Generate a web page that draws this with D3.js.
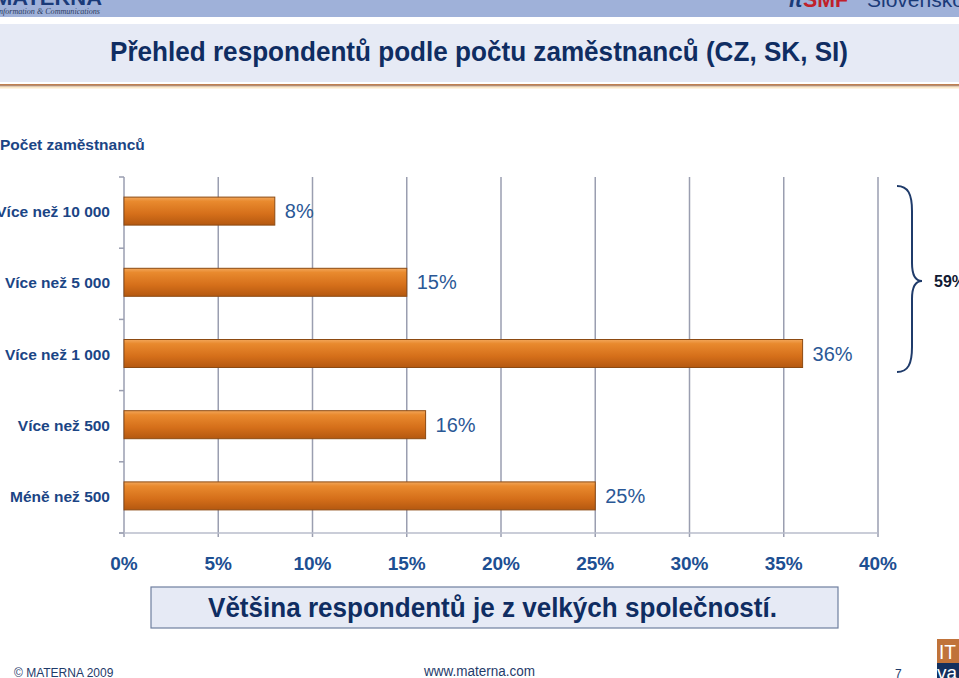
<!DOCTYPE html>
<html><head><meta charset="utf-8">
<script src="https://cdn.jsdelivr.net/npm/d3@7"></script>
<style>body{margin:0;background:#fff;}svg{display:block;}</style>
</head><body>
<svg id="c" width="959" height="678"></svg>
<script>
const categories = ["Více než 10 000","Více než 5 000","Více než 1 000","Více než 500","Méně než 500"];
const values = [8,15,36,16,25];
const ticks = [0,5,10,15,20,25,30,35,40];
const bracketLabel = "59%";
const title = "Přehled respondentů podle počtu zaměstnanců (CZ, SK, SI)";
const yTitle = "Počet zaměstnanců";
const note = "Většina respondentů je z velkých společností.";

(function(){
const svg = d3.select("#c");
const navy = "#1b4585";
const SANS = "Liberation Sans, Arial, sans-serif";
const defs = svg.append("defs");
const g1 = defs.append("linearGradient").attr("id","bar").attr("x1",0).attr("y1",0).attr("x2",0).attr("y2",1);
g1.append("stop").attr("offset","0").attr("stop-color","#f2a65a");
g1.append("stop").attr("offset","0.15").attr("stop-color","#e98a2e");
g1.append("stop").attr("offset","0.6").attr("stop-color","#d56f1a");
g1.append("stop").attr("offset","1").attr("stop-color","#b45810");

// header
svg.append("rect").attr("x",0).attr("y",0).attr("width",959).attr("height",17).attr("fill","#9fb1d9");
svg.append("text").attr("x",-6).attr("y",5).attr("font-family",SANS).attr("font-weight","bold").attr("font-size",20)
  .attr("textLength",108).attr("lengthAdjust","spacingAndGlyphs").attr("fill","#1a3a78").text("MATERNA");
svg.append("text").attr("x",-1).attr("y",13.5).attr("font-family","Liberation Serif, serif").attr("font-style","italic").attr("font-size",9)
  .attr("textLength",101).attr("lengthAdjust","spacingAndGlyphs").attr("fill","#2a3a60").text("nformation & Communications");
svg.append("text").attr("x",789).attr("y",7).attr("font-family",SANS).attr("font-weight","bold").attr("font-style","italic").attr("font-size",22).attr("fill","#1a3a78").text("it");
svg.append("text").attr("x",803).attr("y",7).attr("font-family",SANS).attr("font-weight","bold").attr("font-size",22)
  .attr("textLength",45).attr("lengthAdjust","spacingAndGlyphs").attr("fill","#c0202a").text("SMF");
svg.append("text").attr("x",867).attr("y",7).attr("font-family",SANS).attr("font-size",21).attr("fill","#1a3a78").text("Slovensko");
svg.append("rect").attr("x",0).attr("y",24).attr("width",959).attr("height",58).attr("fill","#e6eaf5");
svg.append("rect").attr("x",0).attr("y",84).attr("width",959).attr("height",1.5).attr("fill","#c08050");
svg.append("rect").attr("x",0).attr("y",85.5).attr("width",959).attr("height",1).attr("fill","#8a5a40");
svg.append("rect").attr("x",0).attr("y",86.5).attr("width",959).attr("height",2).attr("fill","#fbe8c8");

svg.append("text").attr("x",110).attr("y",61)
  .attr("font-family",SANS).attr("font-weight","bold").attr("textLength",738).attr("lengthAdjust","spacingAndGlyphs")
  .attr("font-size",28).attr("fill","#0f2d62").text(title);

svg.append("text").attr("x",0).attr("y",150).attr("font-family",SANS)
  .attr("font-weight","bold").attr("font-size",15.5).attr("fill",navy).text(yTitle);

const x = d3.scaleLinear().domain([0,40]).range([124,878]);
const yb = d3.scaleBand().domain(categories).range([177,533]);

// grid
svg.append("g").selectAll("line").data(ticks.slice(1)).join("line")
  .attr("x1",d=>x(d)).attr("x2",d=>x(d)).attr("y1",177).attr("y2",537)
  .attr("stroke","#9a9eb0").attr("stroke-width",1.5);
// y axis
svg.append("line").attr("x1",124).attr("x2",124).attr("y1",177).attr("y2",537).attr("stroke","#9a9eb0").attr("stroke-width",1.5);
svg.append("line").attr("x1",119).attr("x2",878).attr("y1",533).attr("y2",533).attr("stroke","#b8bccb").attr("stroke-width",1.5);
const bounds = categories.map(c=>yb(c)).concat([533]);
svg.append("g").selectAll("line").data(bounds).join("line")
  .attr("x1",119).attr("x2",124).attr("y1",d=>d).attr("y2",d=>d).attr("stroke","#9a9eb0").attr("stroke-width",1.5);

// bars
const data = categories.map((c,i)=>({c,v:values[i]}));
svg.append("g").selectAll("rect").data(data).join("rect")
  .attr("x",x(0)).attr("y",d=>yb(d.c)+yb.bandwidth()/2-15.5).attr("height",28)
  .attr("width",d=>x(d.v)-x(0)).attr("fill","url(#bar)").attr("stroke","#8c4a12").attr("stroke-width",1);

// value labels
svg.append("g").selectAll("text").data(data).join("text")
  .attr("x",d=>x(d.v)+10).attr("y",d=>yb(d.c)+yb.bandwidth()/2+5.5)
  .attr("font-family",SANS).attr("font-size",20).attr("fill","#2a5896")
  .text(d=>d.v+"%");

// category labels
svg.append("g").selectAll("text").data(categories).join("text")
  .attr("x",110).attr("y",d=>yb(d)+yb.bandwidth()/2+4.5).attr("text-anchor","end")
  .attr("font-family",SANS).attr("font-weight","bold").attr("font-size",15.5).attr("fill",navy)
  .text(d=>d);

// tick labels
svg.append("g").selectAll("text").data(ticks).join("text")
  .attr("x",d=>x(d)).attr("y",570).attr("text-anchor","middle")
  .attr("font-family",SANS).attr("font-weight","bold").attr("font-size",19).attr("fill","#1d4f92")
  .text(d=>d+"%");

// brace
const bx = 897, bt = 186, bb = 372, bm = 281;
const brace = `M${bx},${bt} C${bx+11},${bt} ${bx+15},${bt+8} ${bx+15},${bt+25} L${bx+15},${bm-18} C${bx+15},${bm-6} ${bx+18},${bm} ${bx+25},${bm} C${bx+18},${bm} ${bx+15},${bm+6} ${bx+15},${bm+18} L${bx+15},${bb-25} C${bx+15},${bb-8} ${bx+11},${bb} ${bx},${bb}`;
svg.append("path").attr("d",brace).attr("fill","none").attr("stroke","#1f3b6a").attr("stroke-width",2);
svg.append("text").attr("x",934).attr("y",287).attr("font-family",SANS)
  .attr("font-weight","bold").attr("font-size",16).attr("fill","#111a33").text(bracketLabel);

// note box
svg.append("rect").attr("x",151).attr("y",587).attr("width",687).attr("height",41).attr("fill","#e6eaf5").attr("stroke","#6f7f9f").attr("stroke-width",1.2);
svg.append("text").attr("x",208).attr("y",617)
  .attr("font-family",SANS).attr("font-weight","bold").attr("font-size",27)
  .attr("textLength",569).attr("lengthAdjust","spacingAndGlyphs").attr("fill","#0f2d62").text(note);

// footer
svg.append("text").attr("x",14).attr("y",677).attr("font-family",SANS).attr("font-size",12).attr("fill","#1f3b6a").text("© MATERNA 2009");
svg.append("text").attr("x",424).attr("y",676).attr("font-family",SANS).attr("font-size",14)
  .attr("textLength",111).attr("lengthAdjust","spacingAndGlyphs").attr("fill","#1f3b6a").text("www.materna.com");
svg.append("text").attr("x",895).attr("y",678).attr("font-family",SANS).attr("font-size",12).attr("fill","#1f3b6a").text("7");
svg.append("rect").attr("x",937).attr("y",639).attr("width",22).attr("height",24).attr("fill","#c0733a");
svg.append("text").attr("x",939).attr("y",659).attr("font-family",SANS).attr("font-size",21)
  .attr("textLength",17).attr("lengthAdjust","spacingAndGlyphs").attr("fill","#fff").text("IT");
svg.append("rect").attr("x",937).attr("y",663).attr("width",22).attr("height",15).attr("fill","#13305e");
svg.append("text").attr("x",937).attr("y",679).attr("font-family",SANS).attr("font-size",18)
  .attr("textLength",20).attr("lengthAdjust","spacingAndGlyphs").attr("fill","#fff").text("va");
})();
</script>
</body></html>
